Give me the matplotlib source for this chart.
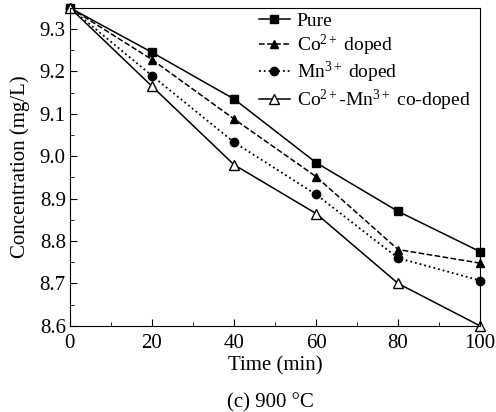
import matplotlib
matplotlib.use("Agg")
import matplotlib.pyplot as plt
from matplotlib.ticker import MultipleLocator, FormatStrFormatter

plt.rcParams["font.family"] = ["Liberation Serif", "DejaVu Serif"]
plt.rcParams["mathtext.fontset"] = "custom"
plt.rcParams["mathtext.rm"] = "Liberation Serif"
plt.rcParams["mathtext.it"] = "Liberation Serif:italic"
plt.rcParams["mathtext.bf"] = "Liberation Serif:bold"

# Data
time = [0, 20, 40, 60, 80, 100]
pure = [9.35, 9.245, 9.135, 8.985, 8.870, 8.775]
co_doped = [9.35, 9.228, 9.088, 8.952, 8.780, 8.748]
mn_doped = [9.35, 9.190, 9.033, 8.910, 8.760, 8.707]
co_mn_doped = [9.35, 9.165, 8.980, 8.865, 8.700, 8.600]

fig = plt.figure(figsize=(4.96, 4.12), dpi=100)
ax = fig.add_axes([0.141, 0.209, 0.827, 0.772])

ax.plot(time, pure, "k-", marker="s", ms=5.5, lw=1.1, label="Pure", clip_on=False)
ax.plot(time, co_doped, "k--", marker="^", ms=5.5, lw=1.1,
        label=r"Co$^{\mathrm{2+}}$ doped", clip_on=False)
ax.plot(time, mn_doped, "k:", marker="o", ms=6, lw=1.3,
        label=r"Mn$^{\mathrm{3+}}$ doped", clip_on=False)
ax.plot(time, co_mn_doped, "k-", marker="^", ms=7, lw=1.1, mfc="white",
        label=r"Co$^{\mathrm{2+}}$-Mn$^{\mathrm{3+}}$ co-doped", clip_on=False)

ax.set_xlim(0, 100)
ax.set_ylim(8.6, 9.35)
ax.xaxis.set_major_locator(MultipleLocator(20))
ax.xaxis.set_minor_locator(MultipleLocator(10))
ax.yaxis.set_major_locator(MultipleLocator(0.1))
ax.yaxis.set_minor_locator(MultipleLocator(0.05))
ax.yaxis.set_major_formatter(FormatStrFormatter("%.1f"))
ax.tick_params(which="both", direction="in", labelsize=15)
ax.tick_params(which="major", length=5)
ax.tick_params(which="minor", length=3)
ax.tick_params(axis="x", pad=6)
ax.tick_params(axis="y", pad=3)

ax.set_xlabel("Time (min)", fontsize=15, labelpad=2)
ax.set_ylabel("Concentration (mg/L)", fontsize=15, labelpad=7)

ax.legend(loc="upper right", frameon=False, fontsize=14, handlelength=1.6,
          handletextpad=0.35, labelspacing=0.12, borderaxespad=0.0,
          bbox_to_anchor=(0.995, 1.01))

fig.text(0.545, 0.01, "(c) 900 °C", ha="center", fontsize=15)

fig.savefig("out.png", dpi=100)
